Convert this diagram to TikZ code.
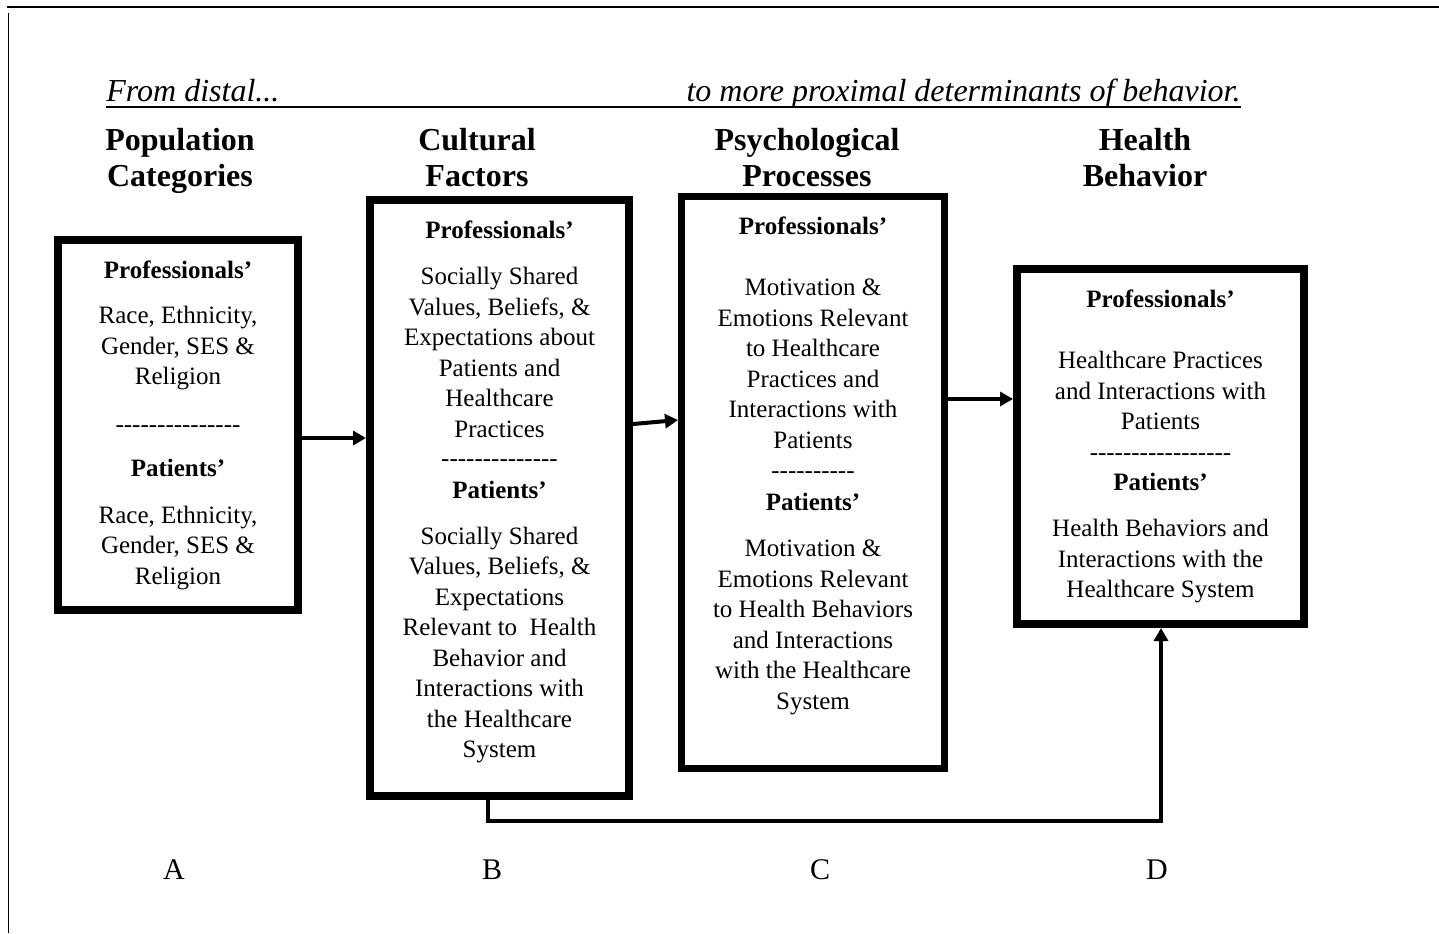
\documentclass[tikz,border=0pt]{standalone}
\usepackage{fontspec}
\setmainfont{Liberation Serif}[Ligatures=TeXOff]
\usepackage{tikz}
\usetikzlibrary{arrows.meta, calc, positioning}
\tikzstyle{box} = [rectangle, draw=black, line width=4pt, inner sep=0pt, align=center, font=\fontsize{12.5}{15.25}\selectfont]
\tikzstyle{head} = [anchor=north, inner sep=0pt, align=center, font=\fontsize{16}{18}\selectfont\bfseries]
\tikzstyle{lead} = [inner sep=0pt, font=\fontsize{16}{18}\selectfont\itshape]
\tikzstyle{tag} = [anchor=base, inner sep=0pt, font=\fontsize{15}{18}\selectfont]
\tikzstyle{arrow} = [line width=2pt, -{Triangle[length=6.5pt, width=7pt]}]
\tikzstyle{backline} = [line width=1.75pt, -{Triangle[length=6.5pt, width=7pt]}]
\newcommand{\dashrow}[1]{\foreach \n in {1,...,#1}{-}}

\begin{document}
\begin{tikzpicture}[x=0.5pt, y=-0.5pt, node distance=32pt]
	\useasboundingbox (0,0) rectangle (1439,933);
	% page rules
	\draw [line width=1pt] (7,6.5) -- (1439,6.5);
	\draw [line width=0.8pt] (8.5,13) -- (8.5,933);
	% distal to proximal
	\node (distal) [lead, anchor=base west] at (106,101) {From distal...};
	\node (proximal) [lead, anchor=base east] at (1241,101) {to more proximal determinants of behavior.};
	\draw [line width=1.2pt] ([yshift=-3pt]distal.base west) -- ([yshift=-3pt]proximal.base east);
	% column heads
	\node (headA) [head] at (180,128) {Population\\Categories};
	\node (headB) [head] at (477,128) {Cultural\\Factors};
	\node (headC) [head] at (807,128) {Psychological\\Processes};
	\node (headD) [head] at (1145,128) {Health\\Behavior};
	% boxes
	\node (boxA) [box, minimum width=120pt, minimum height=185pt] at (178,425) {%
		\textbf{Professionals’}\\[7.5pt]
		Race, Ethnicity,\\ Gender, SES \&\\ Religion\\[8.5pt]
		\dashrow{15}\\[7pt]
		\textbf{Patients’}\\[8pt]
		Race, Ethnicity,\\ Gender, SES \&\\ Religion};
	\node (boxB) [box, minimum width=129.5pt, minimum height=298pt, right=of boxA, yshift=-36.5pt, text depth=8.7pt] {%
		\textbf{Professionals’}\\[7.75pt]
		Socially Shared\\ Values, Beliefs, \&\\ Expectations about\\ Patients and\\ Healthcare\\ Practices\\[-0.75pt]
		\dashrow{14}\\[0.75pt]
		\textbf{Patients’}\\[7.75pt]
		Socially Shared\\ Values, Beliefs, \&\\ Expectations\\ Relevant to\ \ Health\\ Behavior and\\ Interactions with\\ the Healthcare\\ System};
	\node (boxC) [box, line width=3.5pt, minimum width=131.5pt, minimum height=286pt, right=22.5pt of boxB, yshift=7.75pt, text depth=19.2pt] {%
		\textbf{Professionals’}\\[15.25pt]
		Motivation \&\\ Emotions Relevant\\ to Healthcare\\ Practices and\\ Interactions with\\ Patients\\
		\dashrow{10}\\[0.75pt]
		\textbf{Patients’}\\[7.75pt]
		Motivation \&\\ Emotions Relevant\\ to Health Behaviors\\ and Interactions\\ with the Healthcare\\ System};
	\node (boxD) [box, minimum width=143.5pt, minimum height=177.5pt, right=32.5pt of boxC, yshift=18pt] {%
		\textbf{Professionals’}\\[15.5pt]
		Healthcare Practices\\ and Interactions with\\ Patients\\
		\dashrow{17}\\
		\textbf{Patients’}\\[7.75pt]
		Health Behaviors and\\ Interactions with the\\ Healthcare System};
	% column letters
	\node (tagA) [tag] at (174,879) {A};
	\node (tagB) [tag] at (492,879) {B};
	\node (tagC) [tag] at (820,879) {C};
	\node (tagD) [tag] at (1157,879) {D};
	% connectors
	\draw [arrow] (boxA.east |- 0,438) -- (boxB.west |- 0,438);
	\draw [arrow] (boxB.east |- 0,424) -- (boxC.west |- 0,420);
	\draw [arrow] (boxC.east |- 0,399) -- (boxD.west |- 0,399);
	\draw [backline] (boxB.south -| 488,0) -- ++(0,21) -| (boxD.south -| 1161,0);
\end{tikzpicture}
\end{document}
